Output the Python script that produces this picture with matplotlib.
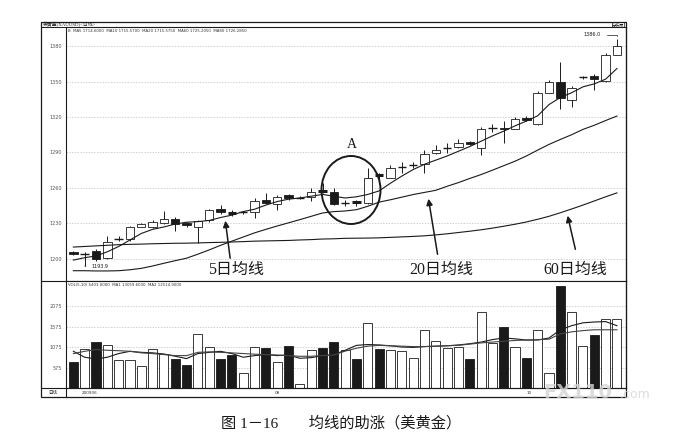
import numpy as np
import matplotlib
matplotlib.use("Agg")
from matplotlib import pyplot as plt
from matplotlib.patches import Rectangle, Ellipse

# candle data
opens = [1205.8, 1203.8, 1206.8, 1200.6, 1216.4, 1216.4, 1227.2, 1227.1, 1230.3, 1234.0,
         1230.3, 1227.2, 1232.5, 1242.5, 1239.0, 1239.1, 1239.3, 1250.2, 1246.7, 1253.8,
         1251.3, 1252.0, 1257.4, 1256.5, 1247.1, 1248.4, 1247.3, 1270.9, 1268.5, 1277.4,
         1279.0, 1280.6, 1289.2, 1293.8, 1294.5, 1299.0, 1294.0, 1310.8, 1310.4, 1310.1,
         1319.5, 1313.8, 1340.7, 1350.0, 1334.2, 1353.2, 1354.3, 1350.6, 1372.4]
closes = [1204.2, 1204.3, 1199.8, 1214.7, 1216.9, 1227.1, 1229.2, 1231.2, 1233.7, 1229.5,
          1228.5, 1232.0, 1241.6, 1239.3, 1238.6, 1239.5, 1249.3, 1247.3, 1252.4, 1251.5,
          1251.7, 1256.3, 1257.0, 1246.5, 1247.5, 1247.8, 1268.5, 1270.5, 1277.0, 1277.8,
          1279.4, 1288.3, 1292.5, 1294.2, 1298.2, 1296.8, 1309.5, 1311.2, 1309.5, 1318.0,
          1317.2, 1340.7, 1350.0, 1335.8, 1344.9, 1353.6, 1352.0, 1372.4, 1380.3]
highs = [1206.5, 1206.0, 1208.0, 1219.0, 1219.0, 1228.2, 1230.6, 1233.0, 1240.2, 1235.0,
         1231.0, 1233.0, 1242.5, 1245.8, 1241.5, 1240.5, 1251.5, 1255.8, 1254.0, 1254.5,
         1253.0, 1260.0, 1264.3, 1260.0, 1249.5, 1250.0, 1277.0, 1273.0, 1279.0, 1282.0,
         1282.0, 1292.1, 1296.0, 1298.0, 1301.0, 1300.0, 1311.5, 1314.1, 1316.5, 1320.0,
         1320.5, 1342.0, 1351.0, 1366.2, 1346.0, 1355.0, 1356.3, 1374.0, 1386.0]
lows = [1203.5, 1193.9, 1198.5, 1200.0, 1215.0, 1215.5, 1226.8, 1226.0, 1229.5, 1223.8,
        1227.0, 1213.3, 1231.5, 1238.0, 1236.6, 1238.3, 1234.5, 1246.0, 1241.6, 1249.5,
        1250.3, 1249.0, 1256.0, 1245.5, 1244.5, 1245.0, 1246.5, 1267.5, 1268.0, 1272.5,
        1277.0, 1272.7, 1288.5, 1289.5, 1294.0, 1296.0, 1287.5, 1307.5, 1298.2, 1309.5,
        1316.5, 1313.0, 1340.0, 1326.5, 1328.2, 1352.0, 1342.6, 1350.0, 1372.0]

ma5 = [1199, 1201, 1202.5, 1206, 1210.5, 1216, 1221.5, 1225, 1227, 1229.5,
       1231, 1231.5, 1232.5, 1235, 1237, 1240, 1242, 1245.5, 1248.5, 1250.5,
       1251.5, 1253, 1254.5, 1253, 1251.5, 1252.5, 1254.5, 1257.5, 1264, 1270,
       1275.5, 1280, 1283.5, 1287, 1291, 1295, 1299.5, 1304, 1308, 1312.5,
       1316.5, 1321, 1330.5, 1336.5, 1340.5, 1345.5, 1348, 1352, 1361]
ma20 = [1190, 1190, 1189.8, 1189.8, 1190, 1190.8, 1192, 1194, 1196.3, 1198.5,
        1200.6, 1204, 1207.6, 1211.5, 1215, 1218.5, 1222, 1225, 1227.8, 1230.5,
        1233.2, 1236, 1238.8, 1240, 1240.5, 1241.6, 1244.5, 1248, 1250, 1252.2,
        1254.4, 1256.2, 1258, 1261.4, 1264.5, 1268, 1271.3, 1275, 1278.8, 1282.6,
        1287, 1292, 1296.8, 1301, 1305, 1309.5, 1313, 1317, 1320.8]
ma60 = [1210, 1210.5, 1211, 1211.5, 1212, 1212.3, 1212.5, 1212.8, 1213, 1213.2,
        1213.3, 1213.5, 1213.8, 1214, 1214.3, 1214.6, 1215, 1215.2, 1215.4, 1215.6,
        1216, 1216.3, 1216.8, 1217, 1217.4, 1217.5, 1217.6, 1217.8, 1218.2, 1218.6,
        1219, 1219.5, 1220.3, 1221.2, 1222.3, 1223.4, 1224.6, 1226, 1227.6, 1229.3,
        1231.2, 1233.5, 1236, 1239, 1242.2, 1245.5, 1249, 1252.5, 1255.8]

volume = [715, 1035, 1198, 1141, 755, 772, 624, 1043, 912, 789,
          641, 1388, 1068, 797, 878, 444, 1085, 1051, 706, 1100,
          174, 1011, 1060, 1208, 1001, 797, 1676, 1043, 1001, 977,
          821, 1486, 1232, 1060, 1076, 789, 1922, 1183, 1577, 1085,
          804, 1494, 450, 2563, 1922, 1100, 1363, 1775, 1775]
vol_ma1 = [975, 830, 789, 830, 920, 975, 950, 937, 910, 854,
           797, 920, 950, 975, 920, 830, 870, 895, 870, 885,
           805, 820, 870, 895, 1000, 1120, 1140, 1130, 1110, 1080,
           1070, 1090, 1100, 1110, 1130, 1160, 1200, 1260, 1300, 1280,
           1250, 1250, 1300, 1500, 1600, 1670, 1690, 1700, 1600]
vol_ma2 = [920, 975, 1018, 1000, 990, 975, 937, 920, 895, 870,
           870, 950, 960, 950, 937, 920, 905, 895, 885, 870,
           854, 854, 870, 885, 980, 1050, 1100, 1120, 1110, 1100,
           1090, 1090, 1100, 1110, 1120, 1150, 1180, 1200, 1220, 1240,
           1250, 1260, 1270, 1400, 1450, 1480, 1500, 1500, 1500]

price_ticks = [1200, 1230, 1260, 1290, 1320, 1350, 1380]
vol_ticks = [575, 1075, 1575, 2075]

W, H = 685, 436
cjk = ["Liberation Serif", "Noto Sans CJK SC"]
ink = "#1a1a1a"


def fr(x, y):
    # pixel (top-left origin) -> figure fraction
    return x / W, 1 - y / H


fig = plt.figure(figsize=(W / 100, H / 100), dpi=100)
fig.patch.set_facecolor("white")

ax = fig.add_axes([66 / W, 1 - 281 / H, 560 / W, 254 / H])
axv = fig.add_axes([66 / W, 1 - 388 / H, 560 / W, 107 / H])

x = np.arange(len(closes))
for a in (ax, axv):
    a.set_xlim(-0.65, 48.8)
    a.set_xticks([])
    a.tick_params(axis="y", length=0, labelsize=3.5, colors="#555555", pad=3)
    for s in a.spines.values():
        s.set_color(ink)
        s.set_linewidth(0.8)
    a.grid(axis="y", color="#bbbbbb", linestyle=(0, (2, 2)), linewidth=0.5)
    a.set_axisbelow(True)

ax.set_ylim(1181.3, 1396.1)
ax.set_yticks(price_ticks)
axv.set_ylim(80, 2690)
axv.set_yticks(vol_ticks)

# candles
bw = 0.74
for i in x:
    o, c, h, l = opens[i], closes[i], highs[i], lows[i]
    ax.vlines(i, l, h, color=ink, lw=0.7, zorder=2)
    up = c >= o
    lo_b, hi_b = min(o, c), max(o, c)
    if hi_b - lo_b < 0.8:
        ax.hlines((o + c) / 2, i - bw / 2, i + bw / 2, color=ink, lw=1.0 if up else 2.2, zorder=3)
    else:
        ax.add_patch(Rectangle((i - bw / 2, lo_b), bw, hi_b - lo_b,
                               facecolor="white" if up else ink,
                               edgecolor=ink, lw=0.6, zorder=3))

ax.plot(x, ma5, color=ink, lw=0.8, zorder=4)
ax.plot(x, ma20, color=ink, lw=0.8, zorder=4)
ax.plot(x, ma60, color=ink, lw=0.8, zorder=4)

# high / low markers
ax.annotate("1193.9", xy=(1, lows[1]), xytext=(1.6, lows[1]), fontsize=3.5,
            va="center", color=ink,
            arrowprops=dict(arrowstyle="-", color=ink, lw=0.5))
ax.annotate("1386.0", xy=(48, highs[48]), xytext=(46.6, highs[48] + 3.5), fontsize=3.5,
            ha="right", va="center", color=ink,
            arrowprops=dict(arrowstyle="-", color=ink, lw=0.5,
                            connectionstyle="angle,angleA=0,angleB=90,rad=0"))

# volume bars
vol_up = [c >= o for o, c in zip(opens, closes)]
axv.bar(x, volume, width=0.8, bottom=0,
        color=["white" if u else ink for u in vol_up], edgecolor=ink, lw=0.6, zorder=2)
axv.plot(x, vol_ma1, color=ink, lw=0.8, zorder=3)
axv.plot(x, vol_ma2, color="#444444", lw=0.8, zorder=3)

# outer frame and header rows
fig.add_artist(Rectangle(fr(41, 397), 585 / W, 375 / H, transform=fig.transFigure,
                         fill=False, edgecolor=ink, lw=0.9))
for yy in (22, 27):
    fig.add_artist(plt.Line2D([41 / W, 626 / W], [1 - yy / H] * 2, color=ink, lw=0.7))
fig.add_artist(plt.Line2D([41 / W, 66 / W], [1 - 281 / H] * 2, color=ink, lw=0.8))
fig.add_artist(plt.Line2D([41 / W, 626 / W], [1 - 388 / H] * 2, color=ink, lw=0.8))
fig.add_artist(plt.Line2D([66 / W, 66 / W], [1 - 397 / H, 1 - 388 / H], color=ink, lw=0.8))
fig.add_artist(Rectangle(fr(612, 27), 12 / W, 5 / H, transform=fig.transFigure,
                         fill=False, edgecolor=ink, lw=0.5))

fig.text(*fr(43, 24.5), "美黄金(XAUUSD)<日线>", fontsize=3.5, va="center", family=cjk, color=ink)
fig.text(*fr(618, 24.5), "分析图", fontsize=3, va="center", ha="center", family=cjk, color=ink)
fig.text(*fr(68, 31.5), "B  MA5 1714.6000  MA10 1715.5700  MA20 1715.5750  MA60 1725.2050  MA80 1726.2850",
         fontsize=2.8, va="center", color="#333333")
fig.text(*fr(68, 285), "VOL(5,10) 5403.0000  MA1 13059.6000  MA2 12514.9000",
         fontsize=2.8, va="center", color="#333333")
fig.text(*fr(53, 392.5), "日线", fontsize=3.2, va="center", ha="center", family=cjk, color=ink)
for px, lab in ((82, "200906"), (275, "08"), (527, "10")):
    fig.text(*fr(px, 392.5), lab, fontsize=3, va="center", color="#333333")

# circle A and labels
fig.add_artist(Ellipse(fr(351, 190), 59 / W, 68 / H, transform=fig.transFigure,
                       fill=False, edgecolor=ink, lw=1.4))
fig.text(*fr(352, 144), "A", fontsize=10, ha="center", va="center",
         family="Liberation Serif", color=ink)

for lab, tx, ty, tail, tip in (("5日均线", 236, 270, (230.5, 261), (225, 218)),
                               ("20日均线", 441, 270, (438, 257), (428, 196)),
                               ("60日均线", 575, 270, (576, 252), (567, 213))):
    fig.text(*fr(tx, ty), lab, fontsize=11.5, ha="center", va="center", family=cjk, color=ink)
    ax.annotate("", xy=fr(*tip), xytext=fr(*tail), xycoords="figure fraction",
                textcoords="figure fraction",
                arrowprops=dict(arrowstyle="-|>", color=ink, lw=1.1, mutation_scale=9))

fig.text(*fr(341, 423), "图 1－16　　均线的助涨（美黄金）", fontsize=11, ha="center",
         va="center", family=cjk, color=ink)
# faint site watermark from the scan
fig.text(*fr(578, 392), "FX110", fontsize=14, fontweight="bold", ha="center", va="center",
         color="#d4d4d4", alpha=0.8, zorder=10)
fig.text(*fr(620, 394), ".com", fontsize=9, ha="left", va="center",
         color="#d4d4d4", alpha=0.8, zorder=10)

fig.savefig("out.png", dpi=100)
